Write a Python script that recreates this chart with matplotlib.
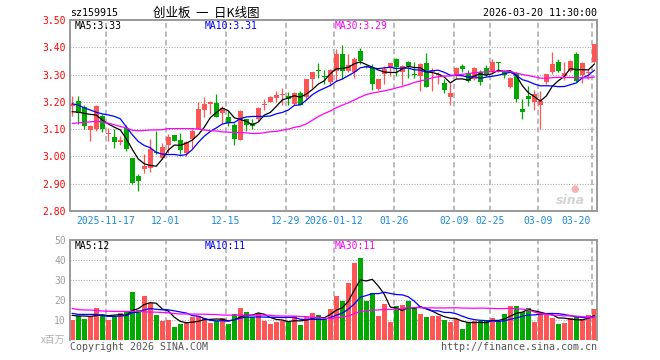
import matplotlib
matplotlib.use("Agg")
import matplotlib.pyplot as plt
import matplotlib.transforms as mtransforms
import numpy as np
import pandas as pd

# ---------------- data ----------------
holidays = ["2026-01-01", "2026-01-02", "2026-02-16", "2026-02-17", "2026-02-18",
            "2026-02-19", "2026-02-20", "2026-02-23"]
days = pd.bdate_range("2025-11-07", "2026-03-20")
days = [d for d in days if d.strftime("%Y-%m-%d") not in holidays]
dates = [d.strftime("%Y-%m-%d") for d in days]

opens = [3.186, 3.203, 3.180, 3.098, 3.100, 3.150, 3.083, 3.072, 3.053, 3.106,
         2.993, 2.928, 2.955, 2.959, 3.017, 2.996, 3.041, 3.078, 3.060, 3.014,
         3.063, 3.102, 3.171, 3.192, 3.194, 3.159, 3.143, 3.114, 3.060, 3.137,
         3.122, 3.137, 3.187, 3.200, 3.214, 3.225, 3.220, 3.192, 3.232, 3.216,
         3.284, 3.317, 3.296, 3.274, 3.314, 3.375, 3.314, 3.310, 3.385, 3.333,
         3.323, 3.247, 3.302, 3.323, 3.357, 3.308, 3.345, 3.302, 3.293, 3.342,
         3.308, 3.298, 3.269, 3.216, 3.296, 3.330, 3.304, 3.284, 3.308, 3.323,
         3.308, 3.344, 3.308, 3.253, 3.304, 3.173, 3.220, 3.198, 3.188, 3.274,
         3.308, 3.347, 3.296, 3.314, 3.376, 3.300, 3.304, 3.345]
highs = [3.220, 3.220, 3.190, 3.114, 3.190, 3.155, 3.106, 3.100, 3.075, 3.115,
         2.995, 2.934, 3.010, 3.063, 3.094, 3.048, 3.081, 3.080, 3.087, 3.057,
         3.102, 3.200, 3.216, 3.204, 3.228, 3.186, 3.167, 3.124, 3.171, 3.139,
         3.139, 3.182, 3.210, 3.222, 3.240, 3.250, 3.237, 3.237, 3.240, 3.284,
         3.310, 3.342, 3.318, 3.320, 3.394, 3.409, 3.375, 3.363, 3.396, 3.336,
         3.339, 3.284, 3.330, 3.342, 3.360, 3.336, 3.350, 3.345, 3.342, 3.379,
         3.323, 3.308, 3.284, 3.269, 3.326, 3.339, 3.318, 3.326, 3.318, 3.335,
         3.357, 3.345, 3.318, 3.290, 3.308, 3.210, 3.257, 3.243, 3.240, 3.302,
         3.384, 3.357, 3.345, 3.355, 3.382, 3.345, 3.320, 3.412]
lows = [3.150, 3.120, 3.100, 3.057, 3.095, 3.088, 3.057, 3.032, 3.043, 3.020,
        2.900, 2.873, 2.940, 2.943, 3.010, 2.990, 3.013, 3.055, 3.008, 3.000,
        3.032, 3.100, 3.143, 3.155, 3.146, 3.118, 3.110, 3.041, 3.060, 3.094,
        3.100, 3.130, 3.170, 3.198, 3.200, 3.188, 3.190, 3.188, 3.188, 3.212,
        3.250, 3.286, 3.265, 3.257, 3.277, 3.284, 3.310, 3.287, 3.339, 3.323,
        3.244, 3.244, 3.265, 3.296, 3.293, 3.262, 3.286, 3.286, 3.240, 3.253,
        3.240, 3.265, 3.231, 3.188, 3.286, 3.311, 3.271, 3.280, 3.262, 3.293,
        3.306, 3.308, 3.286, 3.249, 3.200, 3.137, 3.183, 3.171, 3.100, 3.265,
        3.302, 3.308, 3.281, 3.310, 3.274, 3.269, 3.284, 3.342]
closes = [3.192, 3.158, 3.113, 3.110, 3.186, 3.100, 3.087, 3.053, 3.060, 3.026,
          2.904, 2.910, 2.965, 3.029, 3.013, 3.036, 3.073, 3.057, 3.024, 3.053,
          3.092, 3.173, 3.192, 3.200, 3.146, 3.176, 3.124, 3.063, 3.167, 3.114,
          3.110, 3.176, 3.190, 3.216, 3.225, 3.228, 3.212, 3.232, 3.188, 3.284,
          3.308, 3.314, 3.292, 3.317, 3.375, 3.314, 3.335, 3.357, 3.351, 3.327,
          3.265, 3.284, 3.320, 3.342, 3.326, 3.333, 3.330, 3.298, 3.339, 3.253,
          3.317, 3.302, 3.244, 3.232, 3.323, 3.320, 3.277, 3.323, 3.271, 3.298,
          3.347, 3.341, 3.300, 3.286, 3.210, 3.161, 3.212, 3.228, 3.204, 3.302,
          3.339, 3.314, 3.306, 3.351, 3.278, 3.342, 3.308, 3.412]
volumes = [10.0, 12.2, 10.5, 12.2, 16.0, 12.2, 10.0, 11.8, 13.5, 14.2,
           24.0, 15.0, 22.0, 18.3, 12.5, 9.7, 10.0, 6.5, 8.0, 8.8,
           11.3, 12.0, 10.8, 8.7, 9.7, 10.8, 8.0, 13.0, 16.0, 14.0,
           11.3, 13.3, 9.7, 8.0, 9.2, 9.7, 9.3, 12.0, 7.5, 11.3,
           13.7, 12.5, 10.7, 15.5, 22.2, 19.5, 28.7, 38.7, 41.2, 19.5,
           23.7, 12.0, 18.0, 9.2, 17.0, 17.5, 19.5, 16.3, 13.0, 11.3,
           12.0, 12.0, 10.0, 9.2, 10.3, 5.5, 8.8, 9.7, 9.7, 9.7,
           11.0, 8.8, 13.0, 17.0, 17.0, 13.8, 15.8, 9.2, 13.8, 13.0,
           11.2, 8.0, 8.7, 11.2, 11.7, 10.5, 12.5, 15.5]

# moving-average values at the start of the window (history not shown)
ma5_head = [3.164, 3.162, 3.158, 3.154]
ma10_head = [3.193, 3.188, 3.178, 3.170, 3.162, 3.156, 3.152, 3.147, 3.138]
ma30_head = [3.121, 3.123, 3.125, 3.127, 3.128, 3.127, 3.122, 3.116, 3.110, 3.104,
             3.096, 3.094, 3.095, 3.097, 3.097, 3.098, 3.102, 3.102, 3.102, 3.102,
             3.102, 3.100, 3.097, 3.095, 3.093, 3.090, 3.089, 3.088, 3.087]
vma5_head = [12.3, 12.0, 12.0, 11.8]
vma10_head = [13.3, 12.8, 12.8, 12.8, 12.8, 12.2, 11.8, 11.8, 12.0]
vma30_head = [15.8, 15.2, 15.0, 15.0, 14.8, 14.5, 14.4, 14.3, 14.3, 14.3,
              14.3, 14.3, 14.1, 14.0, 13.9, 13.8, 13.6, 13.2, 13.0, 13.0,
              13.0, 12.9, 12.9, 12.8, 12.7, 12.5, 12.4, 12.4, 12.4]

tick_dates = ["2025-11-17", "2025-12-01", "2025-12-15", "2025-12-29", "2026-01-12",
              "2026-01-26", "2026-02-09", "2026-02-25", "2026-03-09", "2026-03-20"]
tick_labels = ["2025-11-17", "12-01", "12-15", "12-29", "2026-01-12",
               "01-26", "02-09", "02-25", "03-09", "03-20"]
price_ticks = [2.80, 2.90, 3.00, 3.10, 3.20, 3.30, 3.40, 3.50]
vol_ticks = [10, 20, 30, 40, 50]


def moving_avg(vals, n, head):
    s = pd.Series(vals).rolling(n).mean().to_numpy()
    s[:len(head)] = head
    return s


# ---------------- styling ----------------
RED = "#ff5555"
GREEN = "#00a800"
GRID = "#aaaaaa"
BORDER = "#999999"
MONO = "DejaVu Sans Mono"
CJK = ["Noto Sans CJK SC", "DejaVu Sans Mono"]

W, H = 660, 360
fig = plt.figure(figsize=(W / 100, H / 100), dpi=100)
fig.patch.set_facecolor("white")

L, R = 70, 597
ax1 = fig.add_axes([L / W, 1 - 211 / H, (R - L) / W, 191 / H])
ax2 = fig.add_axes([L / W, 1 - 340 / H, (R - L) / W, 100 / H])

n = len(closes)
x = np.arange(n)
o = np.array(opens); c = np.array(closes); hi = np.array(highs); lo = np.array(lows)
v = np.array(volumes)
up = c >= o
cols = np.where(up, RED, GREEN)

xmin, xmax = -0.38, -0.38 + (R - L) / 6.0
tick_idx = [dates.index(d) for d in tick_dates]
grid_x = [i - 0.38 for i in tick_idx]

for ax in (ax1, ax2):
    ax.set_xlim(xmin, xmax)
    ax.set_xticks([])
    for gx in grid_x:
        ax.axvline(gx, color=GRID, lw=1.1, ls=(0, (3.5, 2.2)), zorder=0)
    for sp in ax.spines.values():
        sp.set_color(BORDER)
        sp.set_linewidth(1.4)
    ax.tick_params(axis="y", length=0, pad=3, labelsize=7)

# ---------------- price panel ----------------
ax1.set_ylim(2.80, 3.50)
ax1.set_yticks(price_ticks)
ax1.set_yticklabels([f"{t:.2f}" for t in price_ticks], family=MONO, color="#ff0000")
for t in price_ticks[1:-1]:
    ax1.axhline(t, color=BORDER, lw=0.8, ls=(0, (0.8, 1.6)), zorder=0)

ax1.vlines(x, lo, hi, colors=cols, lw=0.9, zorder=2)
body_h = np.maximum(np.abs(c - o), 0.004)
ax1.bar(x, body_h, bottom=np.minimum(o, c), width=0.8, color=cols, lw=0, zorder=3)

ax1.plot(x, moving_avg(closes, 5, ma5_head), color="black", lw=0.9, zorder=4)
ax1.plot(x, moving_avg(closes, 10, ma10_head), color="#0000ff", lw=0.9, zorder=4)
ax1.plot(x, moving_avg(closes, 30, ma30_head), color="#ff00ff", lw=0.9, zorder=4)

ax1.text(5 / 527, 1 - 6 / 191, "MA5:3.33", transform=ax1.transAxes, family=MONO,
         fontsize=7, color="black", va="center", ha="left")
ax1.text(135 / 527, 1 - 6 / 191, "MA10:3.31", transform=ax1.transAxes, family=MONO,
         fontsize=7, color="#0000ff", va="center", ha="left")
ax1.text(264.5 / 527, 1 - 6 / 191, "MA30:3.29", transform=ax1.transAxes, family=MONO,
         fontsize=7, color="#ff00ff", va="center", ha="left")

# date labels
blend = mtransforms.blended_transform_factory(ax1.transData, ax1.transAxes)
for gx, lab in zip(grid_x, tick_labels):
    ha = "right" if lab == tick_labels[-1] else "center"
    xx = gx if ha == "center" else gx - 0.2
    ax1.text(xx, -10.5 / 191, lab, transform=blend, family=MONO, fontsize=7,
             color="#1c8ad6", ha=ha, va="center")

# sina watermark
ax1.text(1 - 12 / 527, 11 / 191, "sina", transform=ax1.transAxes, fontsize=9,
         fontweight="bold", style="italic", color="#d4d4d4", ha="right", va="center")
ax1.text(1 - 22 / 527, 22 / 191, "\u25cf", transform=ax1.transAxes, fontsize=7,
         color="#f4b4b4", ha="center", va="center")

# ---------------- volume panel ----------------
ax2.set_ylim(0, 50)
ax2.spines["bottom"].set_visible(False)
ax2.set_yticks(vol_ticks)
ax2.set_yticklabels([str(t) for t in vol_ticks], family=MONO, color="#a0a0a0")
for t in vol_ticks[:-1]:
    ax2.axhline(t, color=BORDER, lw=0.8, ls=(0, (0.8, 1.6)), zorder=0)
ax2.bar(x, v, width=0.8, color=cols, lw=0, zorder=2)
ax2.plot(x, moving_avg(volumes, 5, vma5_head), color="black", lw=0.9, zorder=4)
ax2.plot(x, moving_avg(volumes, 10, vma10_head), color="#0000ff", lw=0.9, zorder=4)
ax2.plot(x, moving_avg(volumes, 30, vma30_head), color="#ff00ff", lw=0.9, zorder=4)

ax2.text(5 / 527, 1 - 6 / 100, "MA5:12", transform=ax2.transAxes, family=MONO,
         fontsize=7, color="black", va="center", ha="left")
ax2.text(135 / 527, 1 - 6 / 100, "MA10:11", transform=ax2.transAxes, family=MONO,
         fontsize=7, color="#0000ff", va="center", ha="left")
ax2.text(264.5 / 527, 1 - 6 / 100, "MA30:11", transform=ax2.transAxes, family=MONO,
         fontsize=7, color="#ff00ff", va="center", ha="left")

# ---------------- header / footer text ----------------
fig.text(70 / W, 1 - 13 / H, "sz159915", family=MONO, fontsize=7.2, color="black",
         ha="left", va="center")
fig.text(206 / W, 1 - 13 / H, "创业板  一  日K线图", family=CJK, fontsize=9,
         color="black", ha="center", va="center")
fig.text(597 / W, 1 - 13 / H, "2026-03-20 11:30:00", family=MONO, fontsize=7.2,
         color="black", ha="right", va="center")
fig.text(65 / W, 1 - 340 / H, "x百万", family=CJK, fontsize=7, color="#b0b0b0",
         ha="right", va="center")
fig.text(70 / W, 1 - 346.5 / H, "Copyright 2026 SINA.COM", family=MONO, fontsize=7.2,
         color="#555555", ha="left", va="center")
fig.text(597 / W, 1 - 346.5 / H, "http://finance.sina.com.cn", family=MONO,
         fontsize=7.2, color="#555555", ha="right", va="center")

fig.savefig("out.png", dpi=100, facecolor="white")
